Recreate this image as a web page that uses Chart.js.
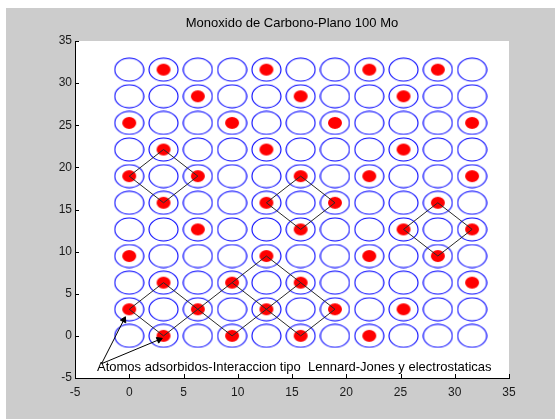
<!DOCTYPE html>
<html>
<head>
<meta charset="utf-8">
<script src="https://cdn.jsdelivr.net/npm/chart.js@4.4.1/dist/chart.umd.min.js"></script>
<style>
  html, body { margin: 0; padding: 0; background: #fff; }
  canvas { display: block; }
</style>
</head>
<body>
<canvas id="chart" width="555" height="419"></canvas>
<script>
// posiciones de la red (Mo 100), en las dos direcciones
const columns = [0, 3.16, 6.32, 9.48, 12.64, 15.8, 18.96, 22.12, 25.28, 28.44, 31.6];
const rows = [0, 3.16, 6.32, 9.48, 12.64, 15.8, 18.96, 22.12, 25.28, 28.44, 31.6];

// atomos adsorbidos (CO)
const adsorbedX = [
  3.16, 12.64, 22.12, 28.44,
  6.32, 15.8, 25.28,
  0, 9.48, 18.96, 31.6,
  3.16, 12.64, 25.28,
  0, 6.32, 15.8, 22.12, 31.6,
  3.16, 12.64, 18.96, 28.44,
  6.32, 15.8, 25.28, 31.6,
  0, 12.64, 22.12, 28.44,
  3.16, 9.48, 15.8, 31.6,
  0, 6.32, 12.64, 18.96, 25.28,
  3.16, 9.48, 15.8, 22.12
];
const adsorbedY = [
  31.6, 31.6, 31.6, 31.6,
  28.44, 28.44, 28.44,
  25.28, 25.28, 25.28, 25.28,
  22.12, 22.12, 22.12,
  18.96, 18.96, 18.96, 18.96, 18.96,
  15.8, 15.8, 15.8, 15.8,
  12.64, 12.64, 12.64, 12.64,
  9.48, 9.48, 9.48, 9.48,
  6.32, 6.32, 6.32, 6.32,
  3.16, 3.16, 3.16, 3.16, 3.16,
  0, 0, 0, 0
];

// lineas de interaccion
const diamondAX = [0, 3.16, 6.32, 3.16, 0];
const diamondAY = [18.96, 22.12, 18.96, 15.8, 18.96];
const diamondBX = [12.64, 15.8, 18.96, 15.8, 12.64];
const diamondBY = [15.8, 18.96, 15.8, 12.64, 15.8];
const diamondCX = [25.28, 28.44, 31.6, 28.44, 25.28];
const diamondCY = [12.64, 15.8, 12.64, 9.48, 12.64];
const zigzagX = [9.48, 6.32, 3.16, 0, 3.16, 6.32, 9.48, 12.64, 15.8, 18.96, 15.8, 12.64, 9.48, 12.64, 15.8];
const zigzagY = [6.32, 3.16, 0, 3.16, 6.32, 3.16, 0, 3.16, 6.32, 3.16, 0, 3.16, 6.32, 9.48, 6.32];

// flechas del texto
const arrowOneX = [-2.55, -0.5];
const arrowOneY = [-3.3, 1.9];
const arrowTwoX = [-2.55, 2.75];
const arrowTwoY = [-3.3, -0.45];

const axisTicks = [-5, 0, 5, 10, 15, 20, 25, 30, 35];
const titleText = 'Monoxido de Carbono-Plano 100 Mo';
const noteText = 'Atomos adsorbidos-Interaccion tipo  Lennard-Jones y electrostaticas';
const noteX = -2.97;
const noteY = -3.8;

const fontFamily = "'Liberation Sans', Arial, sans-serif";

const toPoints = (xs, ys) => xs.map((x, i) => ({ x: x, y: ys[i] }));

// marcadores: circulo azul y punto rojo
function makeEllipse(w, h, stroke, fill) {
  const c = document.createElement('canvas');
  c.width = w; c.height = h;
  const g = c.getContext('2d');
  g.beginPath();
  g.ellipse(w / 2, h / 2, w / 2 - 1, h / 2 - 1, 0, 0, Math.PI * 2);
  if (fill) { g.fillStyle = fill; g.fill(); }
  if (stroke) { g.strokeStyle = stroke; g.lineWidth = 1.1; g.stroke(); }
  return c;
}
const siteMarker = makeEllipse(31, 25, '#0000ff', null);
const atomMarker = makeEllipse(16, 14, null, '#ff0000');

const sites = [];
rows.forEach(y => columns.forEach(x => sites.push({ x: x, y: y })));

function arrowRotation(c) {
  const d = c.dataset.data, sx = c.chart.scales.x, sy = c.chart.scales.y;
  const dx = sx.getPixelForValue(d[1].x) - sx.getPixelForValue(d[0].x);
  const dy = sy.getPixelForValue(d[1].y) - sy.getPixelForValue(d[0].y);
  return Math.atan2(dx, -dy) * 180 / Math.PI;
}

const lineStyle = {
  showLine: true, borderColor: '#2a2a2a', borderWidth: 1,
  pointRadius: 0, fill: false, tension: 0, order: 1
};
const arrowStyle = {
  showLine: true, borderColor: '#000', borderWidth: 1,
  backgroundColor: '#000', pointBorderColor: '#000',
  pointRadius: [0, 3.5], pointStyle: 'triangle', pointRotation: arrowRotation,
  fill: false, order: 0
};

// fondo gris de la figura y blanco de los ejes
const figureBackground = {
  id: 'figureBackground',
  beforeDraw(chart) {
    const { ctx, chartArea: a } = chart;
    ctx.save();
    ctx.fillStyle = '#cccccc';
    ctx.fillRect(6, 8, chart.width - 6, chart.height - 8);
    ctx.fillStyle = '#ffffff';
    ctx.fillRect(a.left, a.top, a.right - a.left, a.bottom - a.top);
    ctx.restore();
  }
};

// marcas hacia adentro como en matlab
const inwardTicks = {
  id: 'inwardTicks',
  afterDraw(chart) {
    const { ctx, chartArea: a, scales: { x, y } } = chart;
    ctx.save();
    ctx.strokeStyle = '#000';
    ctx.lineWidth = 1;
    ctx.beginPath();
    x.ticks.forEach(t => {
      const px = Math.round(x.getPixelForValue(t.value)) + 0.5;
      ctx.moveTo(px, a.bottom); ctx.lineTo(px, a.bottom - 4);
    });
    y.ticks.forEach(t => {
      const py = Math.round(y.getPixelForValue(t.value)) + 0.5;
      ctx.moveTo(a.left, py); ctx.lineTo(a.left + 4, py);
    });
    ctx.stroke();
    ctx.restore();
  }
};

const noteLabel = {
  id: 'noteLabel',
  afterDatasetsDraw(chart) {
    const { ctx, scales: { x, y } } = chart;
    ctx.save();
    ctx.font = '13px ' + fontFamily;
    ctx.fillStyle = '#000';
    ctx.textAlign = 'left';
    ctx.textBaseline = 'middle';
    ctx.fillText(noteText, x.getPixelForValue(noteX), y.getPixelForValue(noteY));
    ctx.restore();
  }
};

const tickFont = { family: fontFamily, size: 12 };

new Chart(document.getElementById('chart'), {
  type: 'scatter',
  data: {
    datasets: [
      Object.assign({ data: toPoints(arrowOneX, arrowOneY) }, arrowStyle),
      Object.assign({ data: toPoints(arrowTwoX, arrowTwoY) }, arrowStyle),
      Object.assign({ data: toPoints(diamondAX, diamondAY) }, lineStyle),
      Object.assign({ data: toPoints(diamondBX, diamondBY) }, lineStyle),
      Object.assign({ data: toPoints(diamondCX, diamondCY) }, lineStyle),
      Object.assign({ data: toPoints(zigzagX, zigzagY) }, lineStyle),
      { data: toPoints(adsorbedX, adsorbedY), pointStyle: atomMarker, pointRadius: 8, order: 2 },
      { data: sites, pointStyle: siteMarker, pointRadius: 15, order: 3 }
    ]
  },
  options: {
    responsive: false,
    animation: false,
    events: [],
    layout: { padding: { top: 0, right: 46, bottom: 0, left: 0 } },
    plugins: {
      legend: { display: false },
      tooltip: { enabled: false },
      title: {
        display: true,
        text: titleText,
        fullSize: false,
        color: '#000',
        font: { family: fontFamily, size: 13, weight: 'normal' },
        padding: { top: 16, bottom: 9.4 }
      }
    },
    scales: {
      x: {
        type: 'linear', min: -5, max: 35,
        afterBuildTicks: s => { s.ticks = axisTicks.map(v => ({ value: v })); },
        ticks: { color: '#1a1a1a', font: tickFont, padding: 7, maxRotation: 0 },
        grid: { display: false, drawTicks: false },
        border: { display: true, color: '#000', width: 1 },
        afterFit: s => { s.height = 41; }
      },
      y: {
        type: 'linear', min: -5, max: 35,
        afterBuildTicks: s => { s.ticks = axisTicks.map(v => ({ value: v })); },
        ticks: { color: '#1a1a1a', font: tickFont, padding: 3 },
        grid: { display: false, drawTicks: false },
        border: { display: true, color: '#000', width: 1 },
        afterFit: s => { s.width = 75; }
      }
    }
  },
  plugins: [figureBackground, inwardTicks, noteLabel]
});
</script>
</body>
</html>
